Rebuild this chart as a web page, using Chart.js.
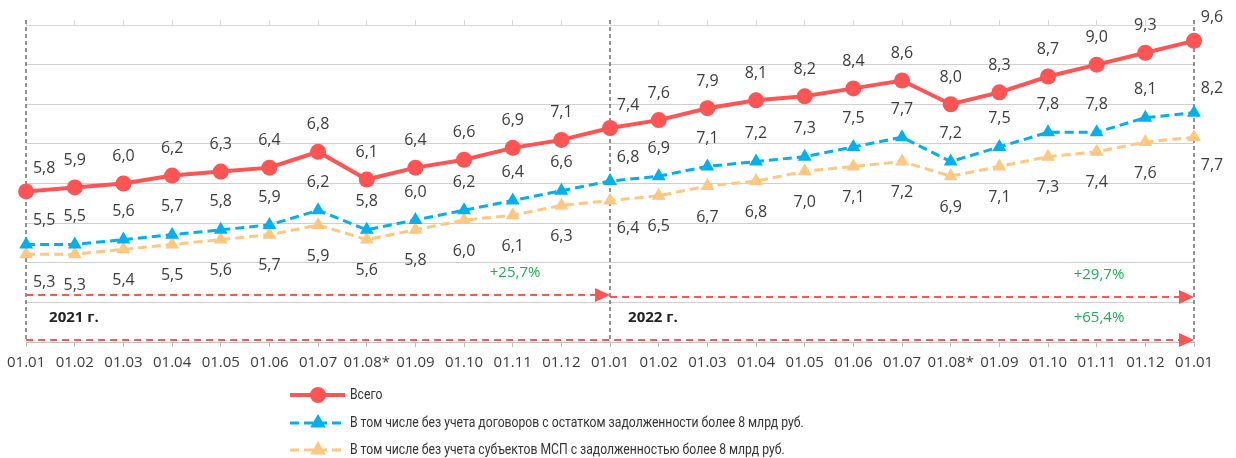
<!DOCTYPE html>
<html>
<head>
<meta charset="utf-8">
<script src="https://cdn.jsdelivr.net/npm/chart.js@4.4.0/dist/chart.umd.min.js"></script>
<style>
  html, body { margin: 0; padding: 0; background: #fff; }
  #wrap { width: 1236px; height: 458px; }
</style>
</head>
<body>
<div id="wrap"><canvas id="debtChart"></canvas></div>
<script>
const months = ['01.01', '01.02', '01.03', '01.04', '01.05', '01.06', '01.07', '01.08*', '01.09', '01.10', '01.11', '01.12',
                '01.01', '01.02', '01.03', '01.04', '01.05', '01.06', '01.07', '01.08*', '01.09', '01.10', '01.11', '01.12', '01.01'];
const totalValues = [5.8, 5.9, 6.0, 6.2, 6.3, 6.4, 6.8, 6.1, 6.4, 6.6, 6.9, 7.1, 7.4, 7.6, 7.9, 8.1, 8.2, 8.4, 8.6, 8.0, 8.3, 8.7, 9.0, 9.3, 9.6];
const withoutBigContracts = [5.5, 5.5, 5.6, 5.7, 5.8, 5.9, 6.2, 5.8, 6.0, 6.2, 6.4, 6.6, 6.8, 6.9, 7.1, 7.2, 7.3, 7.5, 7.7, 7.2, 7.5, 7.8, 7.8, 8.1, 8.2];
const withoutBigSubjects = [5.3, 5.3, 5.4, 5.5, 5.6, 5.7, 5.9, 5.6, 5.8, 6.0, 6.1, 6.3, 6.4, 6.5, 6.7, 6.8, 7.0, 7.1, 7.2, 6.9, 7.1, 7.3, 7.4, 7.6, 7.7];
const seriesNames = ['Всего',
  'В том числе без учета договоров с остатком задолженности более 8 млрд руб.',
  'В том числе без учета субъектов МСП с задолженностью более 8 млрд руб.'];
const yearNames = ['2021 г.', '2022 г.'];
const yearStarts = [0, 12];
const growthFrom = [0, 12, 0];
const growthTo = [12, 24, 24];
const growthText = ['+25,7%', '+29,7%', '+65,4%'];

const RED = '#ff5454', BLUE = '#00b0ef', ORANGE = '#ffc77f', GREEN = '#1daf50';
const fmt = v => v.toFixed(1).replace('.', ',');

const extras = {
  id: 'extras',
  beforeDatasetsDraw(chart) {
    const { ctx, chartArea, scales: { x } } = chart;
    ctx.save();
    ctx.strokeStyle = '#707070';
    ctx.lineWidth = 1.5;
    ctx.setLineDash([4, 3]);
    [...yearStarts, months.length - 1].forEach(i => {
      const px = Math.round(x.getPixelForValue(i));
      ctx.beginPath();
      ctx.moveTo(px, chartArea.top - 5);
      ctx.lineTo(px, chartArea.bottom);
      ctx.stroke();
    });
    ctx.restore();
  },
  afterDatasetsDraw(chart) {
    const { ctx, chartArea, scales: { x } } = chart;
    const edge = new Set([...yearStarts, months.length - 1]);
    ctx.save();
    // value labels
    ctx.font = '16px "Open Sans"';
    ctx.fillStyle = '#3c3c3c';
    ctx.textAlign = 'center';
    ctx.textBaseline = 'middle';
    const shifts = [-27, -28, 31];
    chart.data.datasets.forEach((ds, di) => {
      chart.getDatasetMeta(di).data.forEach((pt, i) => {
        let dx = 0, dy = shifts[di];
        if (edge.has(i)) { dx = 18; dy += dy < 0 ? 4 : -3; }
        ctx.fillText(fmt(ds.data[i]), pt.x + dx, pt.y + dy);
      });
    });
    // growth arrows
    const rowsY = [chartArea.bottom - 47, chartArea.bottom - 45, chartArea.bottom - 2];
    growthText.forEach((t, k) => {
      const x0 = x.getPixelForValue(growthFrom[k]);
      const x1 = x.getPixelForValue(growthTo[k]);
      const y = rowsY[k];
      ctx.strokeStyle = RED;
      ctx.fillStyle = RED;
      ctx.lineWidth = 2;
      ctx.setLineDash([7, 5]);
      ctx.beginPath();
      ctx.moveTo(x0, y);
      ctx.lineTo(x1 - 14, y);
      ctx.stroke();
      ctx.setLineDash([]);
      ctx.beginPath();
      ctx.moveTo(x1, y);
      ctx.lineTo(x1 - 15, y - 7);
      ctx.lineTo(x1 - 15, y + 7);
      ctx.closePath();
      ctx.fill();
      ctx.fillStyle = GREEN;
      ctx.font = '15px "Open Sans"';
      ctx.fillText(t, x1 - 95, y - 22);
    });
    // year captions
    ctx.fillStyle = '#222';
    ctx.font = 'bold 15px "Open Sans"';
    ctx.textAlign = 'left';
    yearNames.forEach((t, k) => {
      const px = x.getPixelForValue(yearStarts[k]);
      ctx.fillText(t, px + (k === 0 ? 23 : 18), chartArea.bottom - 24);
    });
    ctx.restore();
  },
  afterDraw(chart) {
    const { ctx, chartArea } = chart;
    ctx.save();
    ctx.font = '14px Roboto';
    ctx.textBaseline = 'middle';
    const ys = [53, 81, 108];
    chart.data.datasets.forEach((ds, di) => {
      const y = chartArea.bottom + ys[di];
      ctx.strokeStyle = ds.borderColor;
      ctx.lineWidth = ds.borderWidth;
      ctx.setLineDash(ds.borderDash || []);
      ctx.beginPath();
      ctx.moveTo(290, y);
      ctx.lineTo(345, y);
      ctx.stroke();
      ctx.setLineDash([]);
      Chart.helpers.drawPoint(ctx, { pointStyle: ds.pointStyle, radius: 6, borderWidth: 1 }, 318, y);
      ctx.fillStyle = ds.borderColor;
      ctx.fill();
      ctx.save();
      ctx.translate(350, y);
      ctx.scale(0.87, 1);
      ctx.fillStyle = '#333';
      ctx.fillText(ds.label, 0, 0);
      ctx.restore();
    });
    ctx.restore();
  }
};

new Chart(document.getElementById('debtChart'), {
  type: 'line',
  data: {
    labels: months,
    datasets: [{
      label: seriesNames[0],
      data: totalValues,
      yAxisID: 'y',
      borderColor: RED,
      backgroundColor: RED,
      borderWidth: 4,
      pointStyle: 'circle',
      pointRadius: 8,
      pointBorderWidth: 0,
      order: 1
    }, {
      label: seriesNames[1],
      data: withoutBigContracts,
      yAxisID: 'y2',
      borderColor: BLUE,
      backgroundColor: BLUE,
      borderWidth: 3,
      borderDash: [9, 5],
      pointStyle: 'triangle',
      pointRadius: 8,
      pointBorderWidth: 0,
      order: 2
    }, {
      label: seriesNames[2],
      data: withoutBigSubjects,
      yAxisID: 'y2',
      borderColor: ORANGE,
      backgroundColor: ORANGE,
      borderWidth: 3,
      borderDash: [9, 5],
      pointStyle: 'triangle',
      pointRadius: 8,
      pointBorderWidth: 0,
      order: 3
    }]
  },
  options: {
    responsive: true,
    maintainAspectRatio: false,
    animation: false,
    layout: { padding: { left: 0, right: 0, top: 0, bottom: 86 } },
    plugins: {
      legend: { display: false },
      tooltip: { enabled: false }
    },
    scales: {
      x: {
        type: 'category',
        offset: false,
        grid: { drawOnChartArea: false, color: '#bfbfbf', tickLength: 5 },
        border: { color: '#bfbfbf' },
        ticks: { autoSkip: false, maxRotation: 0, padding: 7, color: '#3c3c3c', font: { family: 'Open Sans', size: 15 } },
        afterFit: s => { s.height = 30; }
      },
      xTop: {
        type: 'category',
        position: 'top',
        labels: months,
        offset: false,
        grid: { drawOnChartArea: false, color: '#d9d9d9', tickLength: 5 },
        border: { color: '#d9d9d9' },
        ticks: { display: false },
        afterFit: s => { s.height = 25; }
      },
      y: {
        position: 'left',
        min: 2,
        max: 10,
        ticks: { display: false, stepSize: 1 },
        grid: { color: '#cfcfcf', drawTicks: false },
        border: { display: false },
        afterFit: s => { s.width = 25; }
      },
      y2: {
        position: 'right',
        min: 3.5,
        max: 10,
        ticks: { display: false },
        grid: { display: false },
        border: { display: false },
        afterFit: s => { s.width = 42; }
      }
    }
  },
  plugins: [extras]
});
</script>
</body>
</html>
